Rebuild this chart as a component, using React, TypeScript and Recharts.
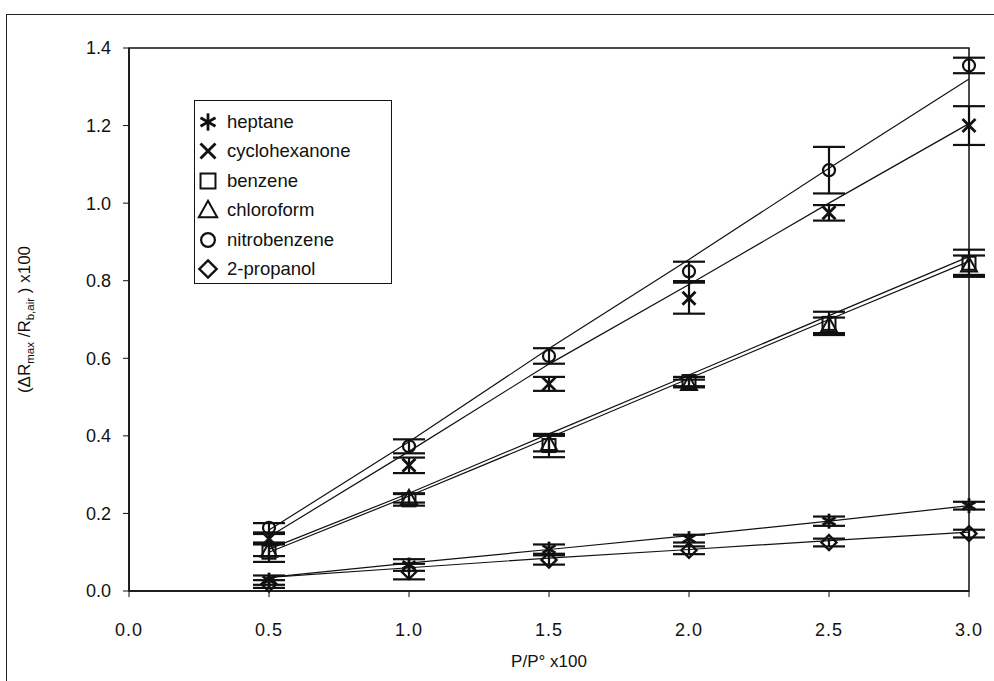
import {
  ComposedChart,
  ErrorBar,
  Line,
  ReferenceArea,
  Scatter,
  XAxis,
  YAxis,
} from 'recharts'

// P/P° x100
const pressures = [0.5, 1.0, 1.5, 2.0, 2.5, 3.0]

// measured response (ΔRmax/Rb,air x100) and error bars
const heptane = [0.028, 0.067, 0.108, 0.135, 0.18, 0.22]
const heptaneErr = [0.012, 0.015, 0.012, 0.01, 0.012, 0.01]
const cyclohexanone = [0.135, 0.324, 0.534, 0.755, 0.975, 1.2]
const cyclohexanoneErr = [0.012, 0.02, 0.018, 0.04, 0.02, 0.05]
const benzene = [0.1, 0.235, 0.375, 0.54, 0.69, 0.845]
const benzeneErr = [0.025, 0.015, 0.03, 0.012, 0.03, 0.035]
const chloroform = [0.105, 0.24, 0.38, 0.535, 0.685, 0.84]
const chloroformErr = [0.015, 0.012, 0.02, 0.01, 0.02, 0.025]
const nitrobenzene = [0.163, 0.373, 0.606, 0.824, 1.085, 1.355]
const nitrobenzeneErr = [0.012, 0.018, 0.02, 0.025, 0.06, 0.02]
const propanol = [0.018, 0.05, 0.08, 0.105, 0.125, 0.148]
const propanolErr = [0.01, 0.02, 0.012, 0.01, 0.01, 0.01]

// fitted curves
const heptaneFit = [0.035, 0.072, 0.107, 0.143, 0.18, 0.22]
const cyclohexanoneFit = [0.14, 0.36, 0.585, 0.79, 1.0, 1.205]
const benzeneFit = [0.1, 0.245, 0.395, 0.548, 0.7, 0.85]
const chloroformFit = [0.108, 0.252, 0.405, 0.557, 0.71, 0.862]
const nitrobenzeneFit = [0.157, 0.385, 0.625, 0.855, 1.09, 1.32]
const propanolFit = [0.035, 0.06, 0.085, 0.107, 0.13, 0.152]

const xTicks = [0, 0.5, 1.0, 1.5, 2.0, 2.5, 3.0]
const yTicks = [0, 0.2, 0.4, 0.6, 0.8, 1.0, 1.2, 1.4]

const legendNames = ['heptane', 'cyclohexanone', 'benzene', 'chloroform', 'nitrobenzene', '2-propanol']

const FONT = '"Liberation Sans", Arial, sans-serif'
const INK = '#111'

const rows = pressures.map((x, i) => ({
  x,
  heptane: heptane[i],
  heptaneErr: heptaneErr[i],
  cyclohexanone: cyclohexanone[i],
  cyclohexanoneErr: cyclohexanoneErr[i],
  benzene: benzene[i],
  benzeneErr: benzeneErr[i],
  chloroform: chloroform[i],
  chloroformErr: chloroformErr[i],
  nitrobenzene: nitrobenzene[i],
  nitrobenzeneErr: nitrobenzeneErr[i],
  propanol: propanol[i],
  propanolErr: propanolErr[i],
  heptaneFit: heptaneFit[i],
  cyclohexanoneFit: cyclohexanoneFit[i],
  benzeneFit: benzeneFit[i],
  chloroformFit: chloroformFit[i],
  nitrobenzeneFit: nitrobenzeneFit[i],
  propanolFit: propanolFit[i],
}))

type Mark = 'star' | 'cross' | 'square' | 'triangle' | 'circle' | 'diamond'

function Marker({ kind, cx, cy, k = 1 }: { kind: Mark; cx: number; cy: number; k?: number }) {
  const s = { stroke: INK, fill: 'none' }
  switch (kind) {
    case 'star': {
      const r = 7.5 * k
      const dx = r * Math.cos(Math.PI / 6)
      const dy = r * Math.sin(Math.PI / 6)
      return (
        <g {...s} strokeWidth={2.8}>
          <line x1={cx} y1={cy - r} x2={cx} y2={cy + r} />
          <line x1={cx - dx} y1={cy - dy} x2={cx + dx} y2={cy + dy} />
          <line x1={cx - dx} y1={cy + dy} x2={cx + dx} y2={cy - dy} />
        </g>
      )
    }
    case 'cross': {
      const r = 6.5 * k
      return (
        <g {...s} strokeWidth={2.8}>
          <line x1={cx - r} y1={cy - r} x2={cx + r} y2={cy + r} />
          <line x1={cx - r} y1={cy + r} x2={cx + r} y2={cy - r} />
        </g>
      )
    }
    case 'square': {
      const r = 6.5 * k
      return <rect x={cx - r} y={cy - r} width={2 * r} height={2 * r} {...s} strokeWidth={2} />
    }
    case 'triangle': {
      const r = 8 * k
      return (
        <polygon
          points={`${cx},${cy - r} ${cx + r},${cy + r * 0.8} ${cx - r},${cy + r * 0.8}`}
          {...s}
          strokeWidth={2}
        />
      )
    }
    case 'circle':
      return <circle cx={cx} cy={cy} r={6 * k} {...s} strokeWidth={2.2} />
    default: {
      const r = 7.5 * k
      return (
        <polygon
          points={`${cx},${cy - r} ${cx + r},${cy} ${cx},${cy + r} ${cx - r},${cy}`}
          {...s}
          strokeWidth={2.4}
        />
      )
    }
  }
}

const shapeOf = (kind: Mark) => (p: any) => <Marker kind={kind} cx={p.cx} cy={p.cy} />

const legendMarks: Mark[] = ['star', 'cross', 'square', 'triangle', 'circle', 'diamond']

function YTitle(props: any) {
  const vb = props.viewBox || { x: 0, y: 48, height: 543 }
  const cx = 30
  const cy = vb.y + vb.height / 2
  return (
    <text
      x={cx}
      y={cy}
      transform={`rotate(-90 ${cx} ${cy})`}
      textAnchor="middle"
      fontFamily={FONT}
      fontSize={17}
      fill={INK}
    >
      <tspan>(ΔR</tspan>
      <tspan fontSize={11.5} dy={4}>max</tspan>
      <tspan dy={-4}> /R</tspan>
      <tspan fontSize={11.5} dy={4}>b,air</tspan>
      <tspan dy={-4}> ) x100</tspan>
    </text>
  )
}

export default function App() {
  const fits = ['heptaneFit', 'cyclohexanoneFit', 'benzeneFit', 'chloroformFit', 'nitrobenzeneFit', 'propanolFit']
  const series: [string, Mark][] = [
    ['heptane', 'star'],
    ['cyclohexanone', 'cross'],
    ['benzene', 'square'],
    ['chloroform', 'triangle'],
    ['nitrobenzene', 'circle'],
    ['propanol', 'diamond'],
  ]

  return (
    <div
      style={{
        position: 'absolute',
        left: 0,
        top: 0,
        width: 994,
        height: 681,
        background: '#fff',
        overflow: 'hidden',
        fontFamily: FONT,
      }}
    >
      <div
        style={{
          position: 'absolute',
          left: 6,
          top: 14,
          width: 1000,
          height: 700,
          borderLeft: '1.5px solid #222',
          borderTop: '1.5px solid #222',
        }}
      />
      <ComposedChart
        width={994}
        height={681}
        data={rows}
        margin={{ top: 48, right: 25, bottom: 50, left: 69 }}
        style={{ position: 'absolute', left: 0, top: 0 }}
      >
        <XAxis
          dataKey="x"
          type="number"
          domain={[0, 3]}
          ticks={xTicks}
          tickFormatter={(v) => Number(v).toFixed(1)}
          tick={{ fill: INK, fontSize: 18, fontFamily: FONT, letterSpacing: 1 }}
          tickSize={6}
          tickMargin={26}
          axisLine={{ stroke: INK, strokeWidth: 1.5 }}
          tickLine={{ stroke: INK }}
          height={40}
          label={{
            value: 'P/P° x100',
            position: 'insideBottom',
            offset: -36,
            fill: INK,
            fontSize: 17,
            fontFamily: FONT,
          }}
        />
        <YAxis
          type="number"
          domain={[0, 1.4]}
          ticks={yTicks}
          tickFormatter={(v) => Number(v).toFixed(1)}
          tick={{ fill: INK, fontSize: 18, fontFamily: FONT }}
          tickSize={6}
          tickMargin={12}
          axisLine={{ stroke: INK, strokeWidth: 1.5 }}
          tickLine={{ stroke: INK }}
          width={60}
          label={{ content: YTitle }}
        />
        <ReferenceArea x1={0} x2={3} y1={0} y2={1.4} fill="none" stroke={INK} strokeWidth={1.5} />
        {fits.map((k) => (
          <Line
            key={k}
            dataKey={k}
            type="linear"
            stroke={INK}
            strokeWidth={1.2}
            dot={false}
            activeDot={false}
            isAnimationActive={false}
          />
        ))}
        {series.map(([k, kind]) => (
          <Scatter key={k} dataKey={k} shape={shapeOf(kind)} isAnimationActive={false}>
            <ErrorBar dataKey={`${k}Err`} direction="y" width={16} stroke={INK} strokeWidth={2.2} />
          </Scatter>
        ))}
      </ComposedChart>
      <div
        style={{
          position: 'absolute',
          left: 194,
          top: 100,
          width: 198,
          height: 184,
          border: '1.5px solid #111',
          boxSizing: 'border-box',
          background: '#fff',
          paddingTop: 6,
        }}
      >
        {legendNames.map((name, i) => (
          <div key={name} style={{ display: 'flex', alignItems: 'center', height: 29.5 }}>
            <svg width={30} height={24}>
              <Marker kind={legendMarks[i]} cx={13} cy={12} k={1.15} />
            </svg>
            <span style={{ fontSize: 18.5, color: INK, marginLeft: 2 }}>{name}</span>
          </div>
        ))}
      </div>
    </div>
  )
}
